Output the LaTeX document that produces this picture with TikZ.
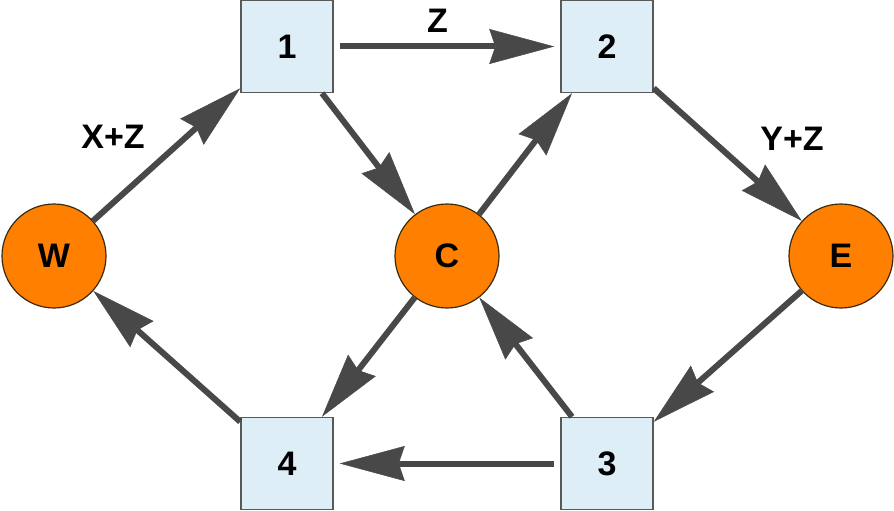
\documentclass[tikz,border=0pt]{standalone}
\usepackage{fontspec}
\setmainfont{Liberation Sans}
\usetikzlibrary{arrows.meta}
\definecolor{sqfill}{HTML}{DDEEF7}
\definecolor{orng}{HTML}{FF8000}
\definecolor{arrgray}{HTML}{484848}
\definecolor{circdraw}{HTML}{3A2A10}
\tikzset{
  bigfont/.style={font=\fontsize{34}{40}\selectfont\bfseries},
  sq/.style={draw=black!65, line width=1.5pt, fill=sqfill, minimum size=92pt, inner sep=0pt, bigfont},
  circ/.style={circle, draw=circdraw, line width=1.2pt, fill=orng, minimum size=104pt, inner sep=0pt, bigfont},
  lbl/.style={inner sep=0pt, bigfont},
  arr/.style={draw=arrgray, line width=6pt,
    -{Stealth[length=65pt,width=35pt,inset=6pt,line width=0.5pt,fill=arrgray]}},
}
\begin{document}
\begin{tikzpicture}[x=1pt,y=-1pt]
\useasboundingbox (0,0) rectangle (894,511);
% nodes
\node[circ] (W) at (54,256) {W};
\node[circ] (C) at (447,256) {C};
\node[circ] (E) at (841,256) {E};
\node[sq] (n1) at (287,46.5) {1};
\node[sq] (n2) at (607,46.5) {2};
\node[sq] (n4) at (287,463.5) {4};
\node[sq] (n3) at (607,463.5) {3};
% labels
\node[lbl] (lz) at (437.5,20.5) {Z};
\node[lbl] (lxz) at (113,136.5) {X+Z};
\node[lbl] (lyz) at (792,139) {Y+Z};
% connectors
\draw[arr] (W) -- ([yshift=5pt]n1.south west);
\draw[arr] ([xshift=35pt]n1.south) -- (C);
\draw[arr, shorten <=6pt, shorten >=6pt] (n1) -- (n2);
\draw[arr] (C) -- ([xshift=-35pt]n2.south);
\draw[arr] ([yshift=5pt]n2.south east) -- (E);
\draw[arr] (E) -- ([yshift=-5pt]n3.north east);
\draw[arr] ([xshift=-35pt]n3.north) -- (C);
\draw[arr, shorten <=6pt, shorten >=6pt] (n3) -- (n4);
\draw[arr] (C) -- ([xshift=35pt]n4.north);
\draw[arr] ([yshift=-5pt]n4.north west) -- (W);
\end{tikzpicture}
\end{document}
